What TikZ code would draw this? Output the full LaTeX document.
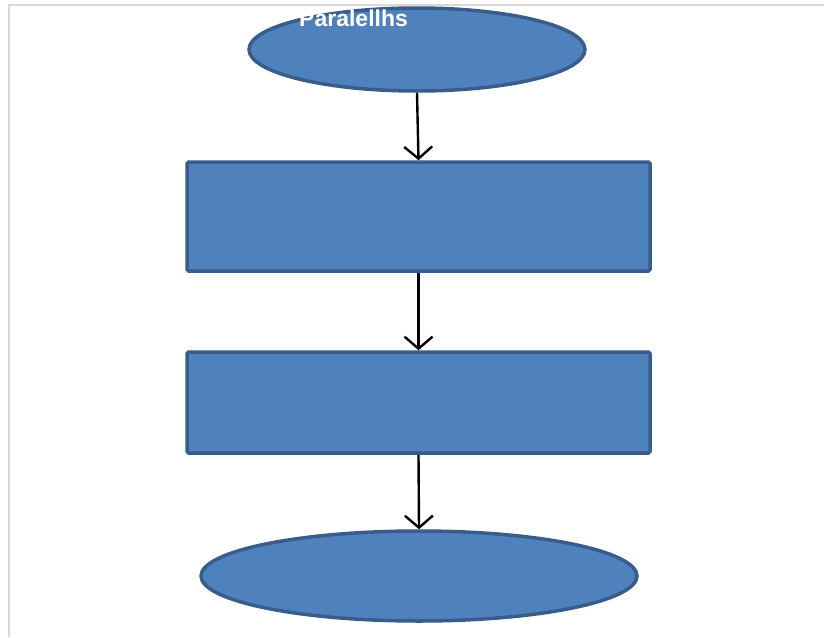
\documentclass[tikz,border=0pt]{standalone}
\usepackage{fontspec}
\setmainfont{Liberation Sans}
\usetikzlibrary{shapes.geometric,arrows.meta}
\definecolor{boxfill}{HTML}{4F81BD}
\definecolor{boxline}{HTML}{385D8A}
\definecolor{frameline}{HTML}{D9D9D9}
\tikzset{
  terminal/.style={ellipse, draw=boxline, fill=boxfill, line width=3.5pt, inner sep=0pt},
  process/.style={rectangle, draw=boxline, fill=boxfill, line width=3.5pt, inner sep=0pt, rounded corners=1.5pt},
  flow/.style={draw=black, line width=2.4pt, -{Straight Barb[length=12pt,width=28pt,line width=2.4pt]}}
}
\begin{document}
\begin{tikzpicture}[x=1pt,y=-1pt]
  \useasboundingbox (0,0) rectangle (824,637);
  \fill[white] (0,0) rectangle (824,637);
  % page frame
  \draw[frameline, line width=2pt] (9,637) -- (9,5) -- (824,5);

  % flowchart shapes
  \node[terminal, minimum width=336pt, minimum height=83pt] (start) at (417,49.5) {};
  \node[process, minimum width=463pt, minimum height=109pt] (p1) at (418.5,216.5) {};
  \node[process, minimum width=463pt, minimum height=101pt] (p2) at (418.5,402.5) {};
  \node[terminal, minimum width=436pt, minimum height=90pt] (stop) at (419,576) {};

  % heading text on the start ellipse
  \node[anchor=base west, text=white, font=\bfseries\fontsize{23pt}{25pt}\selectfont, inner sep=0pt] (title) at (299,26) {Paralellhs};

  % connectors
  \draw[flow] (start.south) -- (p1.north);
  \draw[flow] (p1.south) -- (p2.north);
  \draw[flow] (p2.south) -- (stop.north);
\end{tikzpicture}
\end{document}
